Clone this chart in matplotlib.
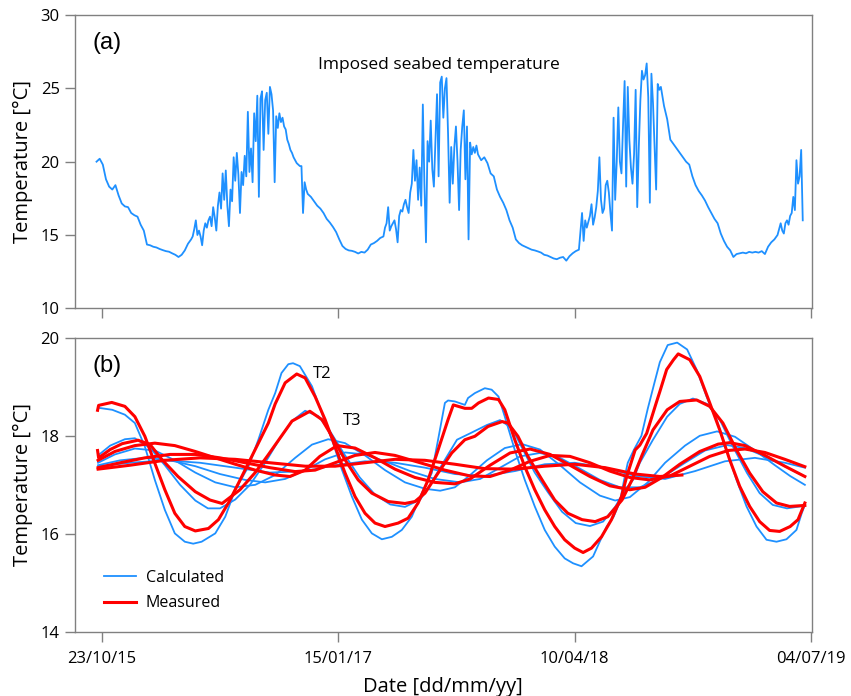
import datetime as dt
import numpy as np
import matplotlib
matplotlib.use("Agg")
import matplotlib.pyplot as plt
from matplotlib.lines import Line2D

plt.rcParams['font.family'] = ['Open Sans', 'DejaVu Sans']

# ---------------- data ----------------
base_date = dt.date(2015, 10, 23)          # day 0
tick_days = [0, 450, 900, 1350]
tick_labels = [(base_date + dt.timedelta(days=d)).strftime('%d/%m/%y') for d in tick_days]

# (a) imposed seabed temperature: segments of (first day, sampling step in days, values)
seabed_winter1 = [20.0, 20.2, 19.8, 18.8, 18.3, 18.1, 18.4, 17.7, 17.15, 16.95,
                  16.9, 16.5, 16.35, 16.25, 15.7, 15.3, 14.35, 14.3, 14.2, 14.15,
                  14.05, 13.97, 13.9, 13.86, 13.75, 13.65, 13.5, 13.65, 13.95, 14.4]
seabed_summer1 = [14.7, 14.9, 15.4, 16.0, 15.0, 15.3, 14.9, 14.3, 15.3, 15.8,
                  15.5, 16.0, 16.25, 15.6, 16.9, 16.2, 15.3, 17.0, 17.9, 16.8,
                  19.2, 17.4, 19.4, 17.0, 15.6, 18.1, 17.3, 20.3, 18.7, 20.6,
                  19.1, 16.5, 19.3, 18.4, 20.4, 19.0, 23.4, 19.3, 20.9, 18.6,
                  23.3, 21.4, 24.5, 17.6, 24.3, 24.8, 20.8, 24.2, 24.7, 21.9,
                  25.1, 24.6, 23.5, 18.6, 23.1, 22.3, 23.3, 22.7, 23.0, 22.4,
                  22.2, 21.5, 21.2, 20.8, 20.6, 20.3, 20.1, 19.9, 19.8, 19.7,
                  19.7, 16.5, 18.6, 18.1, 17.8]
seabed_winter2 = [17.6, 17.3, 17.0, 16.8, 16.5, 16.1, 15.85, 15.55, 15.2, 14.7,
                  14.25, 14.05, 13.95, 13.92, 13.85, 13.74, 13.85, 13.8, 14.0, 14.35,
                  14.45, 14.6, 14.8]
seabed_summer2 = [14.9, 15.5, 15.8, 16.9, 15.3, 15.6, 15.8, 16.0, 15.4, 14.5,
                  16.3, 16.7, 16.6, 17.1, 17.4, 16.9, 16.5, 17.9, 18.5, 20.8,
                  18.7, 20.1, 17.4, 19.6, 17.0, 23.9, 18.5, 14.5, 21.4, 20.0,
                  22.8, 19.5, 18.3, 21.5, 24.6, 19.0, 25.4, 25.8, 23.0, 25.0,
                  25.7, 21.9, 17.2, 21.0, 18.5, 21.0, 22.4, 20.0, 16.7, 20.8,
                  22.4, 23.5, 18.8, 22.4, 14.7, 21.3, 20.5, 21.0, 20.6, 21.1,
                  20.5]
seabed_winter3 = [20.1, 20.3, 19.9, 19.2, 19.0, 18.1, 17.6, 17.2, 16.7, 16.0,
                  15.5, 14.7, 14.45, 14.3, 14.2, 14.1, 14.0, 13.95, 13.88, 13.8,
                  13.65, 13.6, 13.5, 13.4, 13.35, 13.45, 13.5, 13.25, 13.55, 13.75,
                  13.9, 14.0]
seabed_summer3 = [16.5, 14.6, 16.0, 15.5, 15.9, 16.3, 17.1, 15.7, 16.2, 16.9,
                  18.0, 20.3, 17.4, 16.5, 16.8, 18.4, 18.7, 17.9, 16.5, 15.3,
                  23.0, 17.4, 20.0, 23.7, 20.0, 19.2, 22.5, 25.5, 18.3, 25.1,
                  21.5, 19.6, 18.5, 20.5, 24.9, 16.9, 21.0, 24.2, 26.2, 25.6,
                  25.9, 26.7, 24.4, 17.2, 26.0, 24.0, 21.0, 18.1, 25.3, 24.9,
                  25.1]
seabed_winter4 = [23.8, 22.9, 21.5, 21.2, 20.9, 20.6, 20.3, 20.0, 19.8, 19.0,
                  18.4, 18.0, 17.7, 17.35, 16.9, 16.5, 16.1, 15.8, 15.1, 14.6,
                  14.2, 13.95, 13.5, 13.7, 13.75, 13.8, 13.75, 13.85, 13.8, 13.85,
                  13.8, 13.9, 13.7, 14.2, 14.5, 14.7, 15.0, 15.8]
seabed_summer4 = [15.3, 15.1, 15.8, 16.0, 15.7, 16.3, 16.5, 17.6, 16.7, 20.1,
                  18.5, 19.0, 20.8, 16.0]
seabed_segments = [(-10, 6, seabed_winter1), (170, 3, seabed_summer1),
                   (398, 6, seabed_winter2), (536, 3, seabed_summer2),
                   (722, 6, seabed_winter3), (914, 3, seabed_summer3),
                   (1070, 6, seabed_winter4), (1295, 3, seabed_summer4)]

# (b) calculated (blue) and measured (red) temperatures, x in days from 23/10/15
calc_T2_days = [-6, 20, 44, 63, 82, 101, 120, 139, 158, 174, 190, 216, 235, 254, 279, 298, 317, 330, 342, 355,
                364, 377, 400, 419, 438, 457, 476, 495, 514, 533, 552, 571, 590, 609, 628, 640, 653, 659, 672, 691,
                697, 710, 729, 742, 755, 767, 786, 805, 824, 843, 862, 881, 897, 913, 935, 948, 961, 974, 986, 994,
                1001, 1012, 1027, 1039, 1051, 1062, 1077, 1095, 1114, 1132, 1151, 1170, 1189, 1208, 1227, 1246,
                1265, 1284, 1303, 1322, 1332, 1338]
calc_T2 = [18.57, 18.53, 18.43, 18.26, 17.78, 17.10, 16.49, 16.01, 15.84, 15.80, 15.84, 16.01, 16.35, 16.90, 17.37,
           17.92, 18.53, 18.87, 19.28, 19.46, 19.48, 19.42, 19.01, 18.46, 17.92, 17.31, 16.76, 16.29, 16.01, 15.89,
           15.94, 16.08, 16.35, 16.83, 17.24, 17.92, 18.67, 18.72, 18.70, 18.63, 18.77, 18.87, 18.97, 18.94, 18.80,
           18.39, 17.71, 17.10, 16.56, 16.08, 15.74, 15.50, 15.40, 15.34, 15.54, 15.85, 16.15, 16.35, 16.65, 17.10,
           17.45, 17.70, 18.00, 18.55, 19.05, 19.50, 19.85, 19.90, 19.76, 19.35, 18.80, 18.33, 17.71, 17.10, 16.56,
           16.15, 15.88, 15.84, 15.89, 16.08, 16.42, 16.59]

meas_T2_days = [-8, -6, 19, 44, 63, 82, 101, 120, 139, 158, 178, 203, 222, 241, 260, 279, 298, 317, 330, 349,
                371, 387, 406, 425, 444, 463, 482, 501, 520, 539, 564, 583, 602, 621, 640, 659, 669, 691, 704, 717,
                736, 755, 767, 786, 805, 824, 843, 862, 881, 900, 916, 932, 951, 970, 989, 999, 1015, 1024, 1037,
                1056, 1062, 1075, 1088, 1097, 1119, 1138, 1157, 1176, 1195, 1214, 1233, 1252, 1271, 1290, 1310,
                1325, 1338]
meas_T2 = [18.52, 18.62, 18.68, 18.60, 18.39, 17.99, 17.44, 16.90, 16.42, 16.15, 16.06, 16.11, 16.29, 16.63, 17.03,
           17.44, 17.85, 18.26, 18.65, 19.08, 19.26, 19.18, 18.80, 18.33, 17.78, 17.24, 16.76, 16.42, 16.22, 16.15,
           16.22, 16.32, 16.63, 17.10, 17.71, 18.33, 18.63, 18.56, 18.56, 18.67, 18.77, 18.74, 18.53, 17.92, 17.37,
           16.90, 16.49, 16.15, 15.88, 15.71, 15.62, 15.71, 15.94, 16.29, 16.76, 17.17, 17.71, 17.81, 18.05, 18.70,
           18.90, 19.35, 19.55, 19.67, 19.55, 19.21, 18.67, 18.12, 17.51, 16.97, 16.56, 16.25, 16.07, 16.05, 16.15,
           16.29, 16.63]

calc_T3_days = [-7, 16, 44, 63, 92, 120, 149, 178, 202, 225, 254, 282, 311, 339, 362, 387, 412, 434, 463, 491,
                520, 549, 577, 606, 625, 649, 676, 701, 733, 758, 781, 800, 824, 849, 876, 902, 929, 954, 977, 996,
                1011, 1024, 1049, 1076, 1100, 1125, 1152, 1176, 1201, 1228, 1252, 1277, 1304, 1329, 1338]
calc_T3 = [17.60, 17.80, 17.93, 17.95, 17.75, 17.40, 17.00, 16.68, 16.52, 16.52, 16.70, 17.00, 17.45, 17.95, 18.30,
           18.51, 18.40, 18.10, 17.60, 17.15, 16.80, 16.60, 16.55, 16.70, 17.00, 17.44, 17.92, 18.05, 18.22, 18.32,
           18.15, 17.75, 17.25, 16.85, 16.45, 16.22, 16.16, 16.25, 16.55, 16.90, 17.10, 17.45, 17.92, 18.39, 18.65,
           18.76, 18.65, 18.33, 17.78, 17.24, 16.83, 16.59, 16.52, 16.56, 16.58]

meas_T3_days = [-8, -6, 16, 39, 69, 92, 115, 145, 178, 206, 229, 263, 292, 316, 339, 362, 396, 419, 438, 463,
                488, 514, 545, 577, 596, 615, 640, 666, 691, 710, 735, 762, 773, 792, 811, 838, 862, 887, 914, 939,
                963, 990, 1009, 1028, 1049, 1076, 1100, 1132, 1157, 1182, 1208, 1233, 1258, 1284, 1309, 1338]
meas_T3 = [17.70, 17.55, 17.72, 17.84, 17.91, 17.82, 17.51, 17.17, 16.86, 16.69, 16.62, 16.90, 17.25, 17.60, 17.95,
           18.30, 18.50, 18.33, 17.99, 17.51, 17.10, 16.83, 16.66, 16.62, 16.66, 16.83, 17.24, 17.65, 17.92, 17.99,
           18.19, 18.29, 18.26, 17.99, 17.58, 17.10, 16.69, 16.42, 16.29, 16.25, 16.35, 16.69, 17.10, 17.60, 18.12,
           18.53, 18.70, 18.73, 18.60, 18.26, 17.71, 17.24, 16.86, 16.63, 16.56, 16.58]

calc_T4_days = [-7, 25, 63, 101, 139, 178, 216, 254, 292, 330, 368, 400, 431, 463, 501, 539, 577, 615, 644, 672,
                701, 733, 767, 800, 834, 872, 910, 948, 977, 1005, 1039, 1072, 1110, 1138, 1171, 1205, 1243, 1281,
                1310, 1338]
calc_T4 = [17.45, 17.62, 17.74, 17.70, 17.50, 17.25, 17.05, 16.95, 17.00, 17.20, 17.55, 17.82, 17.93, 17.85, 17.60,
           17.30, 17.05, 16.92, 16.88, 16.95, 17.20, 17.50, 17.75, 17.83, 17.72, 17.40, 17.05, 16.78, 16.68, 16.75,
           17.05, 17.45, 17.80, 18.00, 18.09, 17.98, 17.70, 17.40, 17.18, 17.00]

calc_T5_days = [-7, 35, 82, 130, 178, 225, 273, 311, 349, 387, 425, 463, 501, 539, 587, 634, 682, 720, 758, 796,
                834, 872, 910, 948, 986, 1024, 1062, 1110, 1148, 1190, 1224, 1262, 1300, 1338]
calc_T5 = [17.40, 17.50, 17.55, 17.50, 17.38, 17.22, 17.10, 17.05, 17.12, 17.30, 17.52, 17.66, 17.62, 17.48, 17.28,
           17.12, 17.05, 17.12, 17.35, 17.58, 17.65, 17.55, 17.33, 17.10, 16.95, 16.95, 17.12, 17.45, 17.70, 17.81,
           17.75, 17.58, 17.38, 17.17]

calc_T6_days = [-7, 54, 120, 187, 254, 320, 387, 444, 501, 558, 615, 672, 729, 786, 843, 900, 958, 1015, 1072,
                1129, 1186, 1243, 1300, 1338]
calc_T6 = [17.38, 17.45, 17.50, 17.45, 17.35, 17.25, 17.28, 17.40, 17.48, 17.45, 17.35, 17.22, 17.18, 17.28, 17.42,
           17.45, 17.35, 17.18, 17.12, 17.28, 17.48, 17.55, 17.45, 17.35]

meas_T4_days = [-7, 25, 63, 101, 139, 178, 216, 254, 292, 330, 358, 387, 415, 448, 482, 520, 558, 596, 634, 672,
                701, 739, 777, 815, 853, 891, 929, 967, 1005, 1034, 1066, 1100, 1138, 1173, 1195, 1224, 1262, 1300,
                1338]
meas_T4 = [17.50, 17.68, 17.80, 17.85, 17.80, 17.68, 17.55, 17.42, 17.30, 17.20, 17.17, 17.30, 17.58, 17.80, 17.75,
           17.55, 17.32, 17.15, 17.05, 17.02, 17.12, 17.40, 17.65, 17.73, 17.62, 17.40, 17.17, 16.98, 16.90, 16.95,
           17.15, 17.42, 17.68, 17.83, 17.86, 17.80, 17.60, 17.38, 17.17]

meas_T5_days = [-7, 35, 82, 130, 178, 225, 273, 320, 368, 406, 444, 482, 520, 558, 606, 653, 701, 739, 777, 815,
                853, 891, 929, 967, 1005, 1043, 1081, 1119, 1157, 1192, 1224, 1262, 1300, 1338]
meas_T5 = [17.35, 17.45, 17.55, 17.62, 17.62, 17.55, 17.45, 17.35, 17.27, 17.30, 17.45, 17.60, 17.66, 17.60, 17.45,
           17.30, 17.18, 17.17, 17.30, 17.48, 17.60, 17.58, 17.45, 17.28, 17.15, 17.10, 17.18, 17.38, 17.58, 17.70,
           17.73, 17.66, 17.52, 17.37]

meas_T6_days = [-7, 54, 120, 187, 254, 320, 387, 444, 501, 558, 615, 672, 729, 786, 843, 900, 958, 1015, 1062, 1104]
meas_T6 = [17.32, 17.40, 17.50, 17.55, 17.52, 17.45, 17.38, 17.38, 17.45, 17.52, 17.50, 17.42, 17.33, 17.32, 17.38,
           17.42, 17.35, 17.22, 17.17, 17.20]

calc_series = [(calc_T2_days, calc_T2), (calc_T3_days, calc_T3), (calc_T4_days, calc_T4),
               (calc_T5_days, calc_T5), (calc_T6_days, calc_T6)]
meas_series = [(meas_T2_days, meas_T2), (meas_T3_days, meas_T3), (meas_T4_days, meas_T4),
               (meas_T5_days, meas_T5), (meas_T6_days, meas_T6)]

# ---------------- style ----------------
BLUE = '#1E90FF'
RED = '#FF0000'
GREY = '#808080'
XLIM = (-51, 1351)

fig = plt.figure(figsize=(8.51, 6.96), dpi=100)
ax1 = fig.add_axes([0.0881, 0.5570, 0.8657, 0.4214])
ax2 = fig.add_axes([0.0881, 0.0920, 0.8657, 0.4228])


def style(ax):
    for s in ax.spines.values():
        s.set_color(GREY)
        s.set_linewidth(1.0)
    ax.tick_params(axis='both', direction='out', length=7, width=1.0, color=GREY,
                   labelsize=12, labelcolor='black')
    ax.tick_params(axis='y', pad=4)
    ax.tick_params(axis='x', pad=7)
    ax.set_xlim(*XLIM)
    ax.set_xticks(tick_days)


# panel (a)
seabed_days = np.concatenate([start + step * np.arange(len(vals)) for start, step, vals in seabed_segments])
seabed_temp = np.concatenate([vals for _, _, vals in seabed_segments])
ax1.plot(seabed_days, seabed_temp, color=BLUE, lw=1.3)
style(ax1)
ax1.set_ylim(10, 30)
ax1.set_yticks([10, 15, 20, 25, 30])
ax1.set_xticklabels([])
ax1.set_ylabel('Temperature [°C]', fontsize=14.5)
ax1.yaxis.set_label_coords(-0.057, 0.5)
ax1.text(0.043, 0.906, '(a)', transform=ax1.transAxes, ha='center', va='center',
         fontsize=17, family=['Liberation Sans', 'DejaVu Sans'])
ax1.text(642, 26.6, 'Imposed seabed temperature', ha='center', va='center', fontsize=12.5)

# panel (b)
for d, v in calc_series:
    ax2.plot(d, v, color=BLUE, lw=1.3)
for d, v in meas_series:
    ax2.plot(d, v, color=RED, lw=2.2)
style(ax2)
ax2.set_ylim(14, 20)
ax2.set_yticks([14, 16, 18, 20])
ax2.set_xticklabels(tick_labels)
ax2.set_ylabel('Temperature [°C]', fontsize=14.5)
ax2.yaxis.set_label_coords(-0.057, 0.5)
ax2.set_xlabel('Date [dd/mm/yy]', fontsize=14.5, labelpad=7)
ax2.text(0.043, 0.9045, '(b)', transform=ax2.transAxes, ha='center', va='center',
         fontsize=17, family=['Liberation Sans', 'DejaVu Sans'])
ax2.text(402, 19.27, 'T2', ha='left', va='center', fontsize=12)
ax2.text(459, 18.30, 'T3', ha='left', va='center', fontsize=12)

handles = [Line2D([], [], color=BLUE, lw=1.3), Line2D([], [], color=RED, lw=2.2)]
ax2.legend(handles, ['Calculated', 'Measured'], loc='upper left', bbox_to_anchor=(0.04, 0.211),
           frameon=False, fontsize=11.5, handlelength=2.0, handletextpad=0.6, labelspacing=0.6,
           borderpad=0, borderaxespad=0)

fig.savefig('out.png', dpi=100)
